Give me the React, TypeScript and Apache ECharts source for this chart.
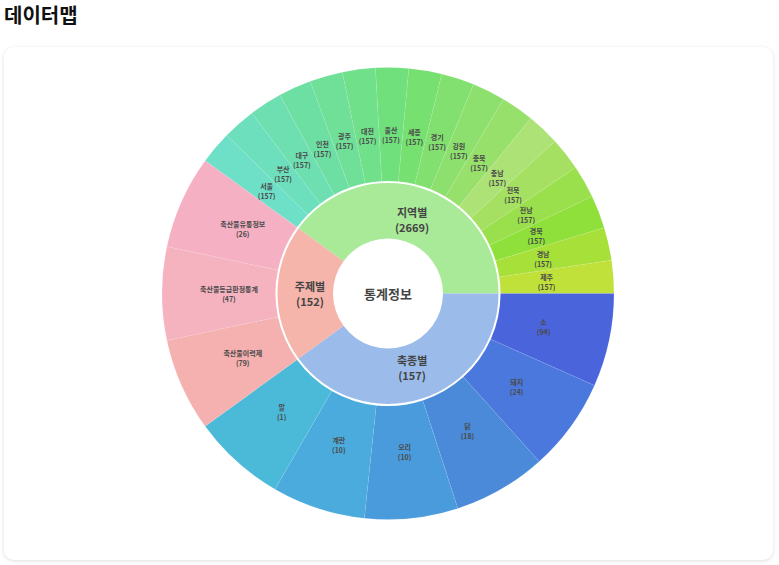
import React, { useEffect, useRef } from "react";
import * as echarts from "echarts";

// ---- data ----
const rootName = "통계정보";
const groupNames = ["지역별", "축종별", "주제별"];
const groupCounts = [2669, 157, 152];
const groupWeights = [2, 2, 1]; // angular share of each group in the ring

const regionNames = ["서울", "부산", "대구", "인천", "광주", "대전", "울산", "세종", "경기", "강원", "충북", "충남", "전북", "전남", "경북", "경남", "제주"];
const regionCounts = [157, 157, 157, 157, 157, 157, 157, 157, 157, 157, 157, 157, 157, 157, 157, 157, 157];

const livestockNames = ["소", "돼지", "닭", "오리", "계란", "말"];
const livestockCounts = [94, 24, 18, 10, 10, 1];

const topicNames = ["축산물이력제", "축산물등급판정통계", "축산물유통정보"];
const topicCounts = [79, 47, 26];

// ---- styles ----
const groupColors = ["#a8ea98", "#9bbcea", "#f5b5ab"];
const regionColors = ["#6ee0c8", "#6ddfbc", "#6ddfb0", "#6edfa3", "#70df97", "#70e08b", "#70e07d", "#76e070", "#82e070", "#8de06e", "#98e06c", "#ade276", "#a5e062", "#9ae04c", "#8fe03a", "#a8e03a", "#c0e03a"];
const livestockColors = ["#4a64dc", "#4a78dc", "#4a8ad8", "#4a9bdc", "#4aabdc", "#4abad8"];
const topicColors = ["#f5b0b0", "#f5b3c0", "#f5b0c4"];

const FONT = "'Noto Sans CJK KR', 'Noto Sans', sans-serif";

function buildData(withColor: boolean) {
  const leafSets = [
    { names: regionNames, counts: regionCounts, colors: regionColors },
    { names: livestockNames, counts: livestockCounts, colors: livestockColors },
    { names: topicNames, counts: topicCounts, colors: topicColors },
  ];
  const children = groupNames.map((g, gi) => {
    const set = leafSets[gi];
    return {
      name: g,
      count: groupCounts[gi],
      ...(withColor ? { itemStyle: { color: groupColors[gi] } } : {}),
      children: set.names.map((n, i) => ({
        name: n,
        count: set.counts[i],
        value: groupWeights[gi] / set.names.length,
        ...(withColor ? { itemStyle: { color: set.colors[i] } } : {}),
      })),
    };
  });
  return [
    {
      name: rootName,
      ...(withColor ? { itemStyle: { color: "#ffffff" } } : {}),
      children,
    },
  ];
}

const CENTER = [388, 293.5];

export default function App() {
  const ref = useRef<HTMLDivElement>(null);
  useEffect(() => {
    if (!ref.current) return;
    const chart = echarts.init(ref.current, undefined, { renderer: "svg" });
    chart.setOption({
      animation: false,
      series: [
        {
          type: "sunburst",
          center: CENTER,
          startAngle: 144,
          sort: null,
          nodeClick: false,
          silent: true,
          data: buildData(true),
          label: { show: false },
          itemStyle: { borderWidth: 0 },
          levels: [
            {},
            { r0: 0, r: 55 },
            { r0: 55, r: 110.5 },
            {
              r0: 112.5,
              r: 226,
              itemStyle: { borderWidth: 0.5, borderColor: "rgba(255,255,255,0.14)" },
            },
          ],
        },
        {
          type: "sunburst",
          center: CENTER,
          startAngle: 144,
          sort: null,
          nodeClick: false,
          silent: true,
          data: buildData(false),
          itemStyle: { color: "rgba(0,0,0,0)", borderWidth: 0 },
          label: {
            show: true,
            rotate: 0,
            color: "#444",
            fontFamily: FONT,
            formatter: (p: any) =>
              p.data && p.data.count != null ? `${p.name}\n(${p.data.count})` : p.name,
          },
          levels: [
            {},
            {
              r0: 0,
              r: 45.5,
              label: { fontSize: 13, fontWeight: "bold", color: "#444" },
            },
            {
              r0: 45.5,
              r: 110.5,
              label: { fontSize: 11, fontWeight: "bold", lineHeight: 15, color: "#444" },
            },
            {
              r0: 112.5,
              r: 205.5,
              label: { fontSize: 7, fontWeight: "bold", lineHeight: 10, color: "#4a4a4a" },
            },
          ],
        },
      ],
    });
    return () => chart.dispose();
  }, []);

  return (
    <div style={{ position: "absolute", left: 0, top: 0, width: 779, height: 565, background: "#fff", overflow: "hidden" }}>
      <div
        style={{
          position: "absolute",
          left: 4,
          top: 5,
          fontFamily: FONT,
          fontWeight: 700,
          fontSize: 20,
          lineHeight: "20px",
          color: "#111",
        }}
      >
        데이터맵
      </div>
      <div
        style={{
          position: "absolute",
          left: 4,
          top: 47,
          width: 769,
          height: 513,
          borderRadius: 10,
          background: "#fff",
          boxShadow: "0 1px 4px rgba(0,0,0,0.13)",
        }}
      />
      <div ref={ref} style={{ position: "absolute", left: 0, top: 0, width: 779, height: 565 }} />
    </div>
  );
}
